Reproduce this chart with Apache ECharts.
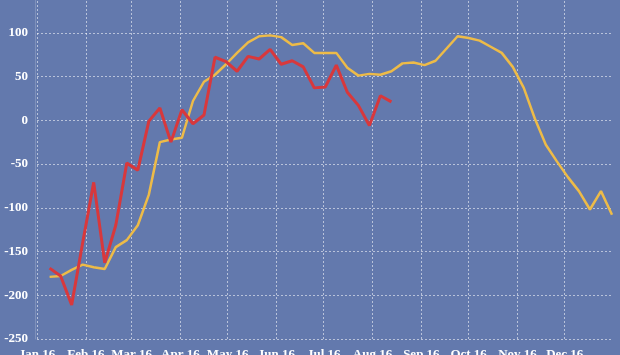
<!DOCTYPE html>
<html>
<head>
<meta charset="utf-8">
<script src="https://cdn.jsdelivr.net/npm/echarts@6/dist/echarts.min.js"></script>
<style>
html,body{margin:0;padding:0;background:#6379AD;}
#chart{width:620px;height:355px;}
</style>
</head>
<body>
<div id="chart"></div>
<script>
// Weekly observation dates (Saturdays) starting 9 Jan 2016
const startDate = '2016-01-09';
const monthNames = ['Jan','Feb','Mar','Apr','May','Jun','Jul','Aug','Sep','Oct','Nov','Dec'];
const yTicks = [-250, -200, -150, -100, -50, 0, 50, 100];

const yellowValues = [
  -179, -178, -171, -165, -168, -170, -145, -137, -120, -85,
  -25, -22, -20, 22, 44, 52, 64, 77, 89, 96,
  97, 95, 86, 88, 77, 77, 77, 60, 51, 53,
  52, 56, 65, 66, 63, 68, 82, 96, 94, 91,
  84, 77, 61, 37, 2, -28, -47, -65, -81, -102,
  -81, -108
];
const redValues = [
  -169, -178, -211, -140, -71, -163, -120, -49, -57, -1,
  14, -25, 12, -4, 6, 72, 67, 56, 73, 70,
  81, 64, 68, 61, 37, 38, 63, 32, 17, -6,
  28, 21
];

function weekDate(i) {
  const p = startDate.split('-').map(Number);
  return new Date(p[0], p[1] - 1, p[2] + 7 * i).getTime();
}
const yellowData = yellowValues.map((v, i) => [weekDate(i), v]);
const redData = redValues.map((v, i) => [weekDate(i), v]);

const chart = echarts.init(document.getElementById('chart'));
const labelFont = {color: '#ffffff', fontFamily: 'Liberation Serif', fontWeight: 'bold', fontSize: 13};
const gridLine = {color: 'rgba(255,255,255,0.55)', type: [2, 2], width: 1};
chart.setOption({
  backgroundColor: '#6379AD',
  animation: false,
  grid: {left: 37, right: 8, top: -11, bottom: 16, containLabel: false, outerBoundsMode: 'none'},
  xAxis: {
    type: 'time',
    min: new Date(2016, 0, 1).getTime(),
    max: new Date(2016, 11, 31).getTime(),
    splitNumber: 12,
    minInterval: 28 * 86400000,
    maxInterval: 31 * 86400000,
    axisLine: {show: false},
    axisTick: {show: false},
    axisLabel: Object.assign({
      margin: 9,
      showMaxLabel: false,
      hideOverlap: false,
      formatter: function (v) {
        const d = new Date(v);
        return monthNames[d.getMonth()] + ' ' + String(d.getFullYear()).slice(2);
      }
    }, labelFont),
    splitLine: {show: true, showMinLine: false, showMaxLine: false, lineStyle: gridLine}
  },
  yAxis: {
    type: 'value',
    min: -250,
    max: 150,
    interval: 50,
    offset: 2,
    axisLine: {show: true, lineStyle: {color: 'rgba(255,255,255,0.18)', width: 1}},
    axisTick: {show: false},
    axisLabel: Object.assign({
      margin: 7,
      formatter: function (v) { return yTicks.indexOf(v) >= 0 ? String(v) : ''; }
    }, labelFont),
    splitLine: {show: true, lineStyle: gridLine}
  },
  series: [
    {
      type: 'line',
      data: yellowData,
      showSymbol: false,
      lineStyle: {color: '#EDBB48', width: 2.5},
      z: 2
    },
    {
      type: 'line',
      data: redData,
      showSymbol: false,
      lineStyle: {color: '#D8383C', width: 3},
      z: 3
    }
  ]
});
</script>
</body>
</html>
